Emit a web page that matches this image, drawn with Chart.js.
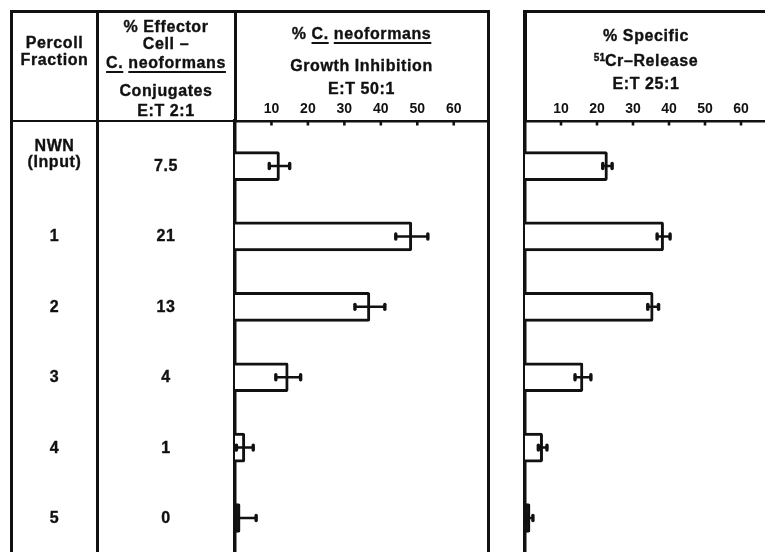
<!DOCTYPE html>
<html><head><meta charset="utf-8">
<script src="https://cdn.jsdelivr.net/npm/chart.js@4.4.0/dist/chart.umd.min.js"></script>
<style>
html,body{margin:0;padding:0;background:#fff;width:765px;height:552px;overflow:hidden;position:relative;}
.ln{position:absolute;background:#111;}
.t{position:absolute;width:240px;text-align:center;font:bold 16px/16px "Liberation Sans",Arial,sans-serif;letter-spacing:0.6px;color:#111;white-space:nowrap;-webkit-text-stroke:0.35px #111;}
.t u{text-decoration-thickness:2px;text-underline-offset:3px;}
.sup{position:relative;top:-5px;font-size:10px;letter-spacing:0;}
.cv{position:absolute;top:0;height:600px;}
</style></head><body>
<div class="cv" style="left:215px;width:275px;"><canvas id="c1"></canvas></div>
<div class="cv" style="left:505px;width:290px;"><canvas id="c2"></canvas></div>
<div class="ln" style="left:10px;top:10px;width:3px;height:600px;"></div>
<div class="ln" style="left:10px;top:10px;width:480px;height:2.5px;"></div>
<div class="ln" style="left:96px;top:10px;width:3px;height:600px;"></div>
<div class="ln" style="left:233.5px;top:10px;width:3.5px;height:112px;"></div>
<div class="ln" style="left:10px;top:119.75px;width:225px;height:2.5px;"></div>
<div class="ln" style="left:487.25px;top:10px;width:2.5px;height:600px;"></div>
<div class="ln" style="left:523px;top:10px;width:250px;height:2.5px;"></div>
<div class="ln" style="left:523px;top:10px;width:3.5px;height:112px;"></div>
<script>
// ---- data ----
const fractionLabels = [['NWN', '(Input)'], ['1'], ['2'], ['3'], ['4'], ['5']];
const conjugates = ['7.5', '21', '13', '4', '1', '0'];
const growthInhibition = [12.2, 48.5, 37.0, 14.6, 2.7, 1.4];
const growthInhibitionErr = [2.8, 4.4, 4.1, 3.4, 2.3, 4.4];
const crRelease = [22.9, 38.5, 35.6, 16.1, 4.9, 1.4];
const crReleaseErr = [1.3, 1.8, 1.5, 2.2, 1.2, 0.8];
const tickValues = [10, 20, 30, 40, 50, 60];

const FONT = '"Liberation Sans", Arial, sans-serif';
const Y_MIN = -0.64, Y_MAX = 6.165;

const errBarPlugin = {
  id: 'errBars',
  afterDatasetsDraw(chart) {
    const { ctx, chartArea: a, scales: { x, y } } = chart;
    ctx.save();
    ctx.beginPath(); ctx.rect(a.left, a.top, a.right - a.left, a.bottom - a.top); ctx.clip();
    ctx.strokeStyle = '#111'; ctx.lineCap = 'round';
    chart.data.datasets.forEach(ds => {
      ds.data.forEach((p, i) => {
        const e = ds.errors[i];
        const cy = y.getPixelForValue(p.y);
        const lo = x.getPixelForValue(p.x - e), hi = x.getPixelForValue(p.x + e);
        ctx.lineWidth = 2.5;
        ctx.beginPath(); ctx.moveTo(lo, cy); ctx.lineTo(hi, cy); ctx.stroke();
        ctx.lineWidth = 3.4;
        [lo, hi].forEach(px => { ctx.beginPath(); ctx.moveTo(px, cy - 2.5); ctx.lineTo(px, cy + 2.5); ctx.stroke(); });
      });
    });
    ctx.restore();
  },
  afterDraw(chart) {
    const { ctx, chartArea: a, scales: { x } } = chart;
    ctx.save(); ctx.fillStyle = '#111';
    x.ticks.forEach(t => {
      if (tickValues.includes(t.value)) {
        const px = x.getPixelForValue(t.value);
        ctx.fillRect(px - 1.3, a.top, 2.6, 4.5);
      }
    });
    ctx.restore();
  }
};

function buildChart(id, values, errors, xMax, padLeft, padRight) {
  return new Chart(document.getElementById(id), {
    type: 'bar',
    data: { datasets: [{
      data: values.map((v, i) => ({ x: v, y: i })),
      errors: errors,
      // very short bars print as solid black slivers
      backgroundColor: c => (c.raw && c.raw.x < 2 ? '#111' : '#fff'),
      borderColor: '#111', borderWidth: 3,
      borderSkipped: 'start', borderRadius: 2, barThickness: 29
    }] },
    options: {
      indexAxis: 'y', responsive: true, maintainAspectRatio: false, animation: false,
      devicePixelRatio: 1, events: [],
      layout: { padding: { left: padLeft, right: padRight, top: 0, bottom: 0 } },
      plugins: { legend: { display: false }, tooltip: { enabled: false } },
      scales: {
        x: {
          type: 'linear', position: 'top', min: 0, max: xMax, z: 1,
          grid: { display: false, drawTicks: false },
          border: { display: true, color: '#111', width: 2.5 },
          ticks: { stepSize: 10, includeBounds: false, padding: 3, maxRotation: 0, autoSkip: false,
            color: '#111', font: { family: FONT, weight: 'bold', size: 14 },
            callback: v => tickValues.includes(v) ? String(v) : '' },
          afterFit: s => { s.height = 121; }
        },
        y: {
          type: 'linear', reverse: true, min: Y_MIN, max: Y_MAX, z: 1, offset: false,
          grid: { display: false, drawTicks: false, offset: false },
          border: { display: true, color: '#111', width: 3.5 },
          ticks: { display: false },
          afterFit: s => { s.width = 0; }
        }
      }
    },
    plugins: [errBarPlugin]
  });
}

const chart1 = buildChart('c1', growthInhibition, growthInhibitionErr, 69.4, 20, 2);
const chart2 = buildChart('c2', crRelease, crReleaseErr, 67.5, 20, 27);

function addText(cx, cy, html) {
  const d = document.createElement('div');
  d.className = 't';
  d.style.left = (cx - 120) + 'px';
  d.style.top = (cy - 8) + 'px';
  d.innerHTML = html;
  document.body.appendChild(d);
}

// header texts
addText(54.5, 43, 'Percoll');
addText(54.5, 60, 'Fraction');
addText(166, 26.5, '% Effector');
addText(166, 43.5, 'Cell –');
addText(166, 63, '<u>C.</u> <u>neoformans</u>');
addText(166, 91, 'Conjugates');
addText(166, 111, 'E:T 2:1');
addText(361.5, 33.5, '% <u>C.</u> <u>neoformans</u>');
addText(361.5, 66, 'Growth Inhibition');
addText(361.5, 89, 'E:T 50:1');
addText(646, 36, '% Specific');
addText(646, 61, '<span class="sup">51</span>Cr–Release');
addText(646, 84, 'E:T 25:1');

// row texts, positioned from the chart's own y scale
const ys = chart1.scales.y;
fractionLabels.forEach((lines, i) => {
  const cy = ys.getPixelForValue(i);
  const top = lines.length > 1 ? cy - 12 - (lines.length - 1) * 8 : cy;
  lines.forEach((s, k) => addText(54.5, top + k * 16, s));
  addText(166, cy, conjugates[i]);
});
</script>
</body></html>
